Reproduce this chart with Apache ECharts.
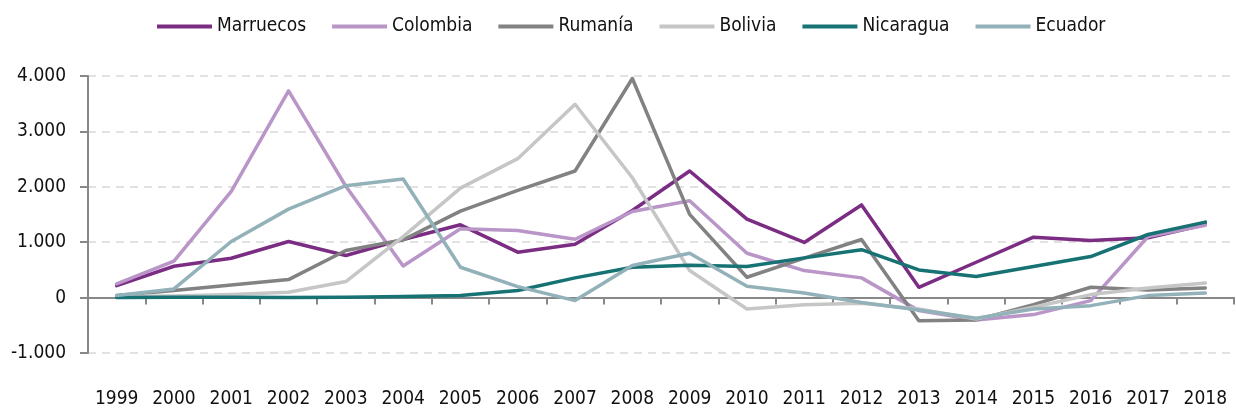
<!DOCTYPE html>
<html>
<head>
<meta charset="utf-8">
<script src="https://cdn.jsdelivr.net/npm/echarts/dist/echarts.min.js"></script>
<style>
  html, body { margin: 0; padding: 0; background: #fff; }
  #main { width: 1236px; height: 412px; }
</style>
</head>
<body>
<div id="main"></div>
<script>
  const years = ['1999', '2000', '2001', '2002', '2003', '2004', '2005', '2006', '2007', '2008',
    '2009', '2010', '2011', '2012', '2013', '2014', '2015', '2016', '2017', '2018']

  const marruecos = [217, 566, 711, 1013, 760, 1050, 1314, 820, 964, 1573, 2285, 1416, 995, 1673, 186, 638, 1090, 1031, 1080, 1320]
  const colombia = [247, 657, 1917, 3731, 2010, 570, 1242, 1212, 1054, 1555, 1748, 801, 488, 356, -235, -403, -307, -54, 1103, 1305]
  const rumania = [36, 127, 229, 325, 850, 1043, 1561, 1935, 2285, 3955, 1501, 367, 711, 1049, -416, -403, -127, 186, 139, 175]
  const bolivia = [18, 30, 54, 96, 290, 1100, 1977, 2508, 3490, 2164, 488, -205, -127, -103, -205, -385, -175, 54, 175, 262]
  const nicaragua = [0, 5, 5, 3, 8, 20, 40, 127, 356, 548, 584, 561, 717, 865, 500, 380, 561, 741, 1139, 1362]
  const ecuador = [36, 157, 1013, 1597, 2020, 2140, 548, 199, -54, 578, 801, 205, 84, -90, -223, -374, -205, -145, 36, 82]

  const names = ['Marruecos', 'Colombia', 'Rumanía', 'Bolivia', 'Nicaragua', 'Ecuador']
  const colors = ['#7b2c83', '#b995c8', '#828282', '#c6c6c6', '#177274', '#92b1b9']
  const values = [marruecos, colombia, rumania, bolivia, nicaragua, ecuador]

  const font = "'DejaVu Sans Condensed', 'DejaVu Sans', sans-serif"

  let myChart = echarts.init(document.getElementById('main'))
  myChart.setOption({
    animation: false,
    color: colors,
    textStyle: { fontFamily: font },
    legend: {
      top: 12,
      left: 152,
      icon: 'rect',
      itemWidth: 55,
      itemHeight: 4,
      itemGap: 26,
      textStyle: { fontFamily: font, fontSize: 19, color: '#111' },
      data: names
    },
    grid: {
      left: 88,
      right: 2,
      top: 76,
      bottom: 59
    },
    xAxis: [
      {
        type: 'category',
        data: years,
        boundaryGap: true,
        axisLine: { onZero: true, lineStyle: { color: '#888', width: 2 } },
        axisTick: { show: true, length: 7, lineStyle: { color: '#888', width: 2 } },
        axisLabel: { show: false },
        splitLine: { show: false }
      },
      {
        // solo etiquetas, abajo del todo
        type: 'category',
        data: years,
        position: 'bottom',
        boundaryGap: true,
        axisLine: { show: false, onZero: false },
        axisTick: { show: false },
        axisLabel: { interval: 0, margin: 37, fontFamily: font, fontSize: 19, color: '#111' },
        splitLine: { show: false }
      }
    ],
    yAxis: {
      type: 'value',
      min: -1000,
      max: 4000,
      interval: 1000,
      axisLine: { show: true, lineStyle: { color: '#888', width: 2 } },
      axisTick: { show: true, length: 8, lineStyle: { color: '#888', width: 2 } },
      axisLabel: {
        margin: 22,
        fontFamily: font,
        fontSize: 19,
        color: '#111',
        formatter: function (v) {
          let s = String(Math.abs(v)).replace(/\B(?=(\d{3})+(?!\d))/g, '.')
          return (v < 0 ? '-' : '') + s
        }
      },
      splitLine: { show: true, lineStyle: { color: '#d9d9d9', width: 1.5, type: [8, 6] } }
    },
    series: names.map(function (n, i) {
      return {
        name: n,
        type: 'line',
        data: values[i],
        symbol: 'none',
        lineStyle: { width: 3.5, color: colors[i], cap: 'round', join: 'round' },
        itemStyle: { color: colors[i] }
      }
    })
  })
</script>
</body>
</html>
